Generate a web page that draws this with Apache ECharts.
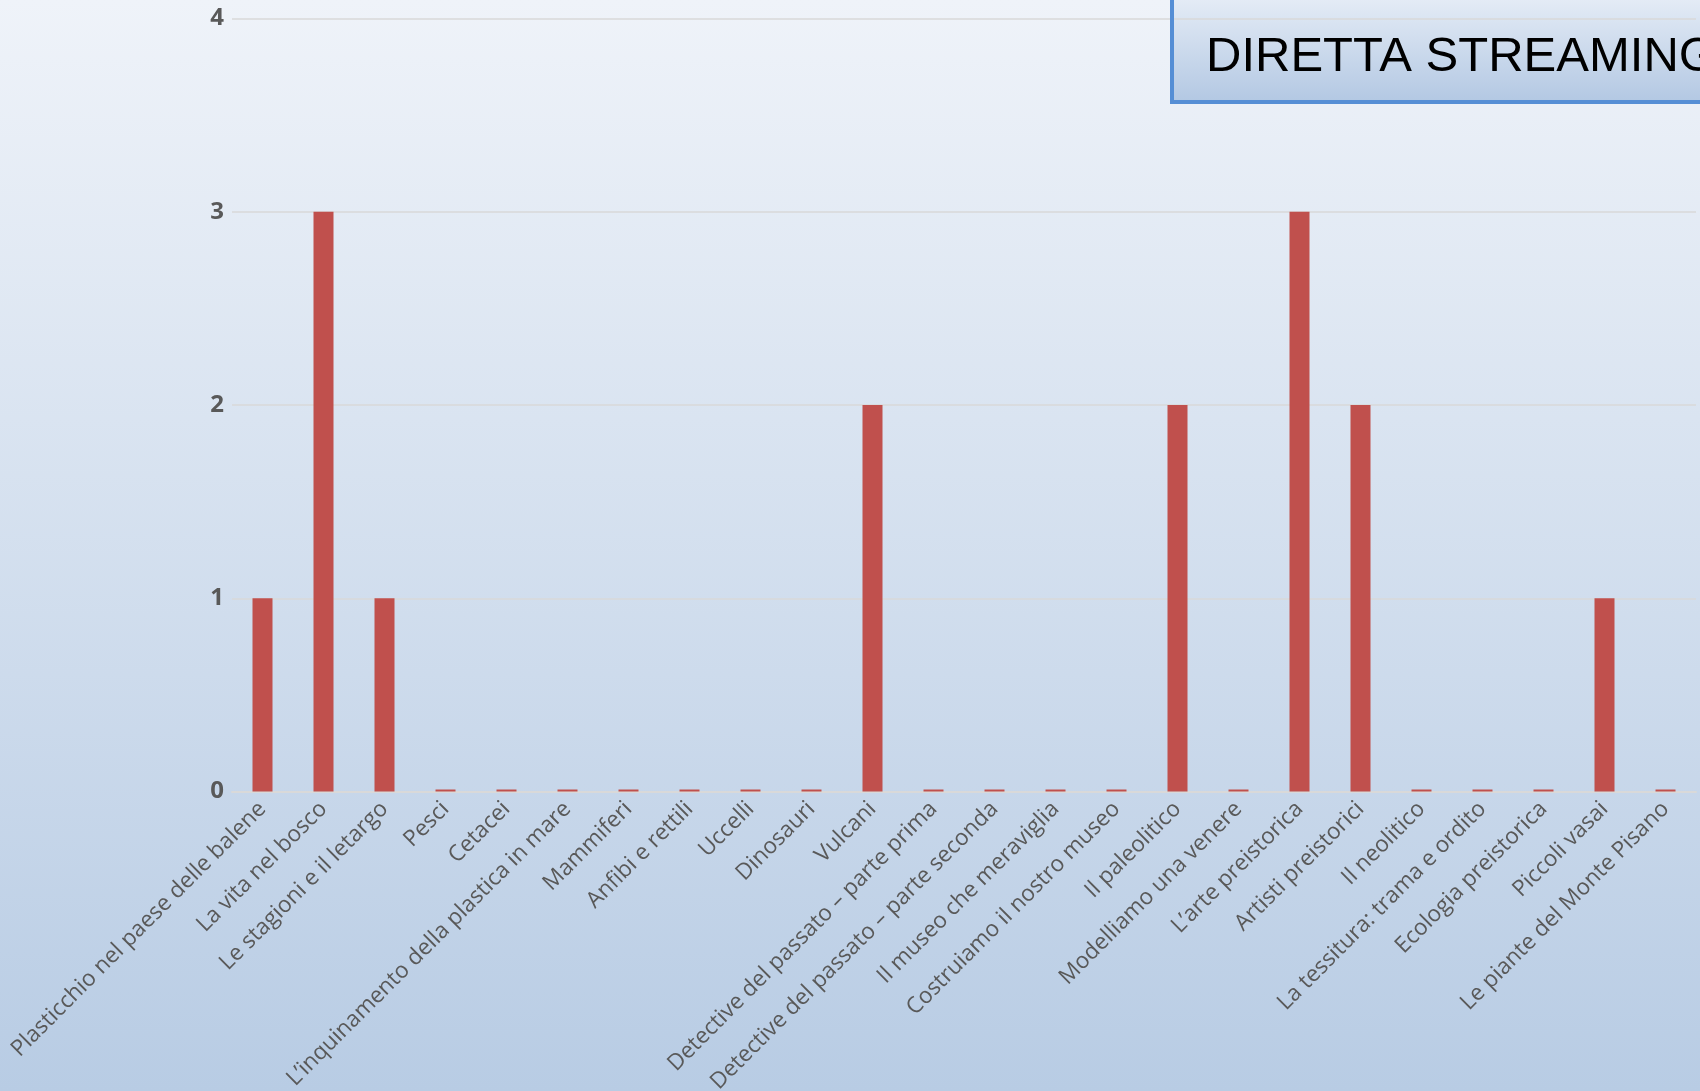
<!DOCTYPE html>
<html><head><meta charset="utf-8">
<script src="https://cdn.jsdelivr.net/npm/echarts@6/dist/echarts.min.js"></script>
<style>html,body{margin:0;padding:0;}#c{width:1700px;height:1091px;}</style>
</head><body><div id="c"></div>
<script>
const categories = ["Plasticchio nel paese delle balene","La vita nel bosco","Le stagioni e il letargo","Pesci","Cetacei","L\u2019inquinamento della plastica in mare","Mammiferi","Anfibi e rettili","Uccelli","Dinosauri","Vulcani","Detective del passato \u2013 parte prima","Detective del passato \u2013 parte seconda","Il museo che meraviglia","Costruiamo il nostro museo","Il paleolitico","Modelliamo una venere","L\u2019arte preistorica","Artisti preistorici","Il neolitico","La tessitura: trama e ordito","Ecologia preistorica","Piccoli vasai","Le piante del Monte Pisano"];
const values = [1,3,1,0,0,0,0,0,0,0,2,0,0,0,0,2,0,3,2,0,0,0,1,0];
const titleText = "DIRETTA STREAMING";

const chart = echarts.init(document.getElementById('c'), null, {renderer:'canvas'});
chart.setOption({
  animation:false,
  backgroundColor:{type:'linear',x:0,y:0,x2:0,y2:1,colorStops:[{offset:0,color:'#eff3f9'},{offset:1,color:'#b8cce4'}]},
  grid:{left:232,right:4,top:18.5,bottom:299.5,containLabel:false,outerBoundsMode:'none'},
  xAxis:{type:'category',data:categories,
    axisLine:{lineStyle:{color:'#d9d9d9',width:2}},
    axisTick:{show:false},
    axisLabel:{rotate:45,interval:0,margin:14,color:'#595959',fontFamily:'Open Sans',fontSize:22.5}},
  yAxis:{type:'value',min:0,max:4,interval:1,
    axisLine:{show:false},axisTick:{show:false},
    splitLine:{lineStyle:{color:'#d9d9d9',width:1.5}},
    axisLabel:{margin:8,color:'#595959',fontFamily:'Open Sans',fontWeight:'bold',fontSize:24}},
  series:[{type:'bar',data:values,barWidth:20,barMinHeight:2,itemStyle:{color:'#c0504d'}}],
  graphic:[
    {type:'rect',z:-10,shape:{x:1172,y:-20,width:600,height:122},
      style:{fill:{type:'linear',x:0,y:0,x2:0,y2:1,colorStops:[{offset:0,color:'#edf2f9'},{offset:1,color:'#b3c8e3'}]}}},
    {type:'rect',z:100,shape:{x:1172,y:-20,width:600,height:122},
      style:{fill:null,stroke:'#558ed5',lineWidth:4}},
    {type:'text',z:101,left:1206,top:33,style:{text:titleText,fill:'#000',font:'49px "Liberation Sans", Arial'}}
  ]
});
</script></body></html>
